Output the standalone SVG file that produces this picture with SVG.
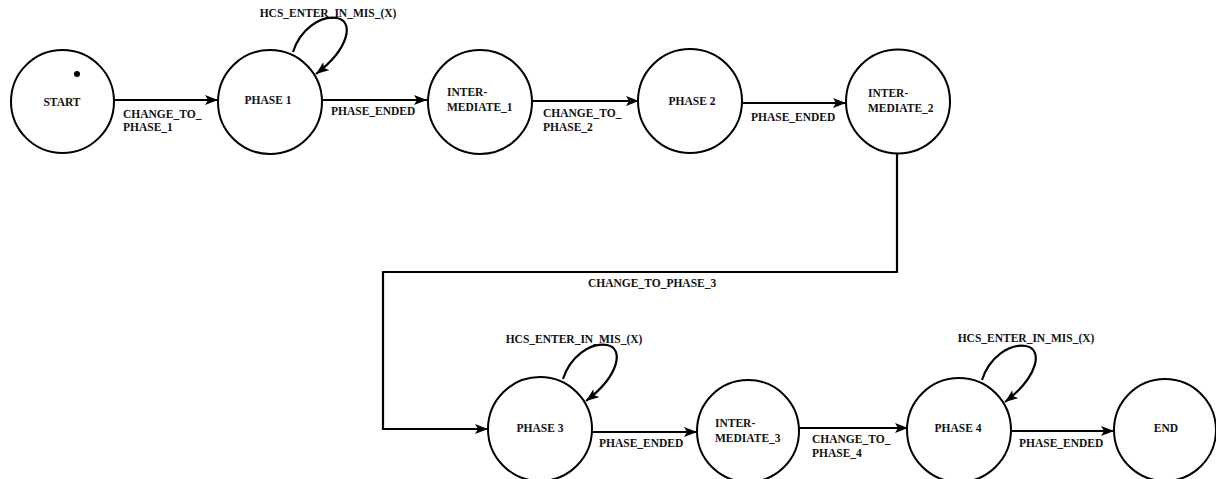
<svg xmlns="http://www.w3.org/2000/svg" width="1216" height="479" viewBox="0 0 1216 479">
<style>
.st{fill:#fff;stroke:#000;stroke-width:2}
.t{font-family:"Liberation Serif","Times New Roman",serif;font-weight:bold;font-size:11.5px;fill:#111}
.c{text-anchor:middle}
.e{fill:none;stroke:#000;stroke-width:2.2;marker-end:url(#ah)}
</style>
<defs>
<marker id="ah" viewBox="0 0 13 10" refX="13" refY="5" markerWidth="13" markerHeight="10" markerUnits="userSpaceOnUse" orient="auto">
<path d="M0,0 L13,5 L0,10 L3,5 z" fill="#000"/>
</marker>
<path id="loop" d="M23,-50 C30,-72 50,-87 67,-84 C84,-81 80,-54 46,-28"/>
</defs>
<rect width="1216" height="479" fill="#fff"/>
<g id="connectors">
<path class="e" d="M114,100 L218,100"/>
<path class="e" d="M322,100 L427,100"/>
<path class="e" d="M532,101 L639,101"/>
<path class="e" d="M742,103 L846,103"/>
<path class="e" d="M897,153 L897,272 L383,272 L383,429 L488,429"/>
<path class="e" d="M592,432 L697,432"/>
<path class="e" d="M798,428 L908,428"/>
<path class="e" d="M1010,431 L1114,431"/>
<use href="#loop" class="e" transform="translate(270,102)"/>
<use href="#loop" class="e" transform="translate(540,429)"/>
<use href="#loop" class="e" transform="translate(959,430)"/>
<text class="t" x="123" y="118">CHANGE_TO_</text>
<text class="t" x="123" y="131">PHASE_1</text>
<text class="t" x="331" y="115">PHASE_ENDED</text>
<text class="t" x="543" y="117">CHANGE_TO_</text>
<text class="t" x="543" y="131">PHASE_2</text>
<text class="t" x="751" y="121">PHASE_ENDED</text>
<text class="t" x="588" y="287">CHANGE_TO_PHASE_3</text>
<text class="t" x="599" y="447">PHASE_ENDED</text>
<text class="t" x="812" y="443">CHANGE_TO_</text>
<text class="t" x="812" y="457">PHASE_4</text>
<text class="t" x="1019" y="447">PHASE_ENDED</text>
<text class="t c" x="328" y="17">HCS_ENTER_IN_MIS_(X)</text>
<text class="t c" x="574" y="343">HCS_ENTER_IN_MIS_(X)</text>
<text class="t c" x="1026" y="342">HCS_ENTER_IN_MIS_(X)</text>
</g>
<g id="start">
<circle class="st" cx="62.5" cy="101.5" r="51.5"/>
<circle cx="77" cy="74" r="3" fill="#000"/>
<text class="t c" x="62" y="106">START</text>
</g>
<g id="phase1">
<circle class="st" cx="270" cy="102" r="52"/>
<text class="t c" x="268" y="104">PHASE 1</text>
</g>
<g id="intermediate1">
<circle class="st" cx="480" cy="102" r="52"/>
<text class="t" x="447" y="96">INTER-</text>
<text class="t" x="447" y="111">MEDIATE_1</text>
</g>
<g id="phase2">
<circle class="st" cx="690" cy="101" r="52"/>
<text class="t c" x="692" y="105">PHASE 2</text>
</g>
<g id="intermediate2">
<circle class="st" cx="898" cy="101.5" r="52"/>
<text class="t" x="868" y="97">INTER-</text>
<text class="t" x="868" y="112">MEDIATE_2</text>
</g>
<g id="phase3">
<circle class="st" cx="540" cy="429" r="52"/>
<text class="t c" x="540" y="432">PHASE 3</text>
</g>
<g id="intermediate3">
<circle class="st" cx="748" cy="431" r="51"/>
<text class="t" x="715" y="427">INTER-</text>
<text class="t" x="715" y="442">MEDIATE_3</text>
</g>
<g id="phase4">
<circle class="st" cx="959" cy="430" r="52"/>
<text class="t c" x="958" y="432">PHASE 4</text>
</g>
<g id="end">
<circle class="st" cx="1165" cy="430" r="51"/>
<text class="t c" x="1166" y="432">END</text>
</g>
</svg>
